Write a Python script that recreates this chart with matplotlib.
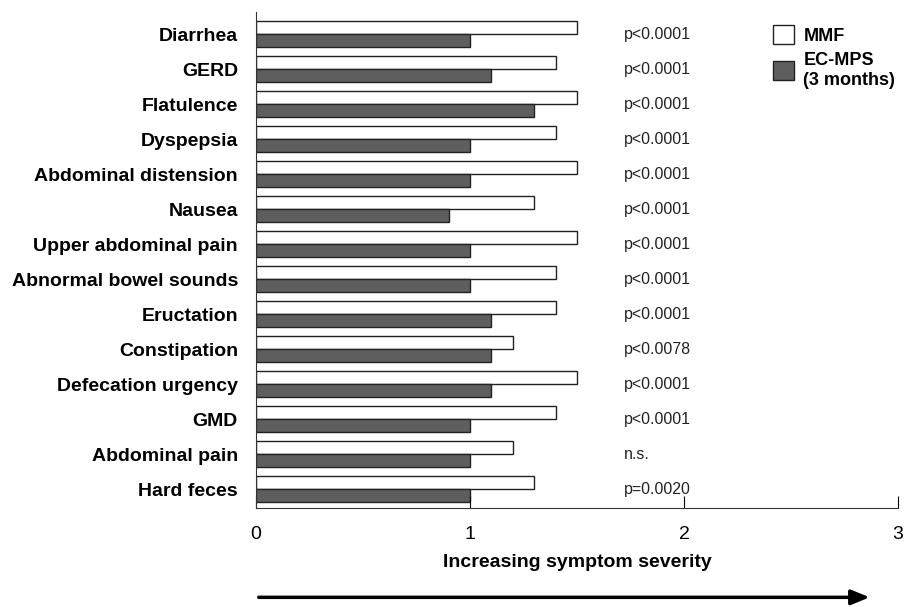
import numpy as np
import matplotlib.pyplot as plt
from matplotlib.patches import Patch

plt.rcParams['font.family'] = ['Liberation Sans', 'DejaVu Sans']

symptomes = ["Diarrhea", "GERD", "Flatulence", "Dyspepsia", "Abdominal distension",
             "Nausea", "Upper abdominal pain", "Abnormal bowel sounds", "Eructation",
             "Constipation", "Defecation urgency", "GMD", "Abdominal pain", "Hard feces"]
mmf = [1.5, 1.4, 1.5, 1.4, 1.5, 1.3, 1.5, 1.4, 1.4, 1.2, 1.5, 1.4, 1.2, 1.3]
ec_mps = [1.0, 1.1, 1.3, 1.0, 1.0, 0.9, 1.0, 1.0, 1.1, 1.1, 1.1, 1.0, 1.0, 1.0]
p_valeurs = ["p<0.0001", "p<0.0001", "p<0.0001", "p<0.0001", "p<0.0001", "p<0.0001",
             "p<0.0001", "p<0.0001", "p<0.0001", "p<0.0078", "p<0.0001", "p<0.0001",
             "n.s.", "p=0.0020"]

fig = plt.figure(figsize=(9.07, 6.07), dpi=100)
ax = fig.add_axes([0.2822, 0.163, 0.708, 0.817])

y = np.arange(len(symptomes))
h = 0.37
# barres MMF (blanches) au-dessus, EC-MPS (grises) en dessous
ax.barh(y - h / 2, mmf, height=h, color='white', edgecolor='#222222', linewidth=1)
ax.barh(y + h / 2, ec_mps, height=h, color='#5e5e5e', edgecolor='#222222', linewidth=1)

for yi, p in zip(y, p_valeurs):
    ax.text(1.72, yi, p, va='center', ha='left', fontsize=11.5, color='#222222')

ax.set_xlim(0, 3)
ax.set_ylim(13.54, -0.63)
ax.set_yticks(y)
ax.set_yticklabels(symptomes, fontsize=14, fontweight='bold')
ax.tick_params(axis='y', length=0, pad=13)
ax.set_xticks([0, 1, 2, 3])
ax.tick_params(axis='x', direction='in', length=9, pad=13, labelsize=14)
for s in ['top', 'right']:
    ax.spines[s].set_visible(False)
ax.spines['left'].set_color('#333333')
ax.spines['bottom'].set_color('#333333')
ax.set_xlabel("Increasing symptom severity", fontsize=14, fontweight='bold', labelpad=8)

# fleche sous l'axe
ax.annotate("", xy=(2.88, -0.18), xytext=(0, -0.18),
            xycoords=ax.get_xaxis_transform(), textcoords=ax.get_xaxis_transform(),
            annotation_clip=False,
            arrowprops=dict(arrowstyle='-|>,head_length=1.1,head_width=0.45', color='black', lw=2.5))

handles = [Patch(facecolor='white', edgecolor='#222222', label='MMF'),
           Patch(facecolor='#5e5e5e', edgecolor='#222222', label='EC-MPS\n(3 months)')]
fig.legend(handles=handles, loc='upper left', bbox_to_anchor=(0.834, 0.985),
           frameon=False, handlelength=1.2, handleheight=1.2, handletextpad=0.5,
           labelspacing=0.4, prop={'weight': 'bold', 'size': 13})

fig.savefig("out.png", dpi=100)
